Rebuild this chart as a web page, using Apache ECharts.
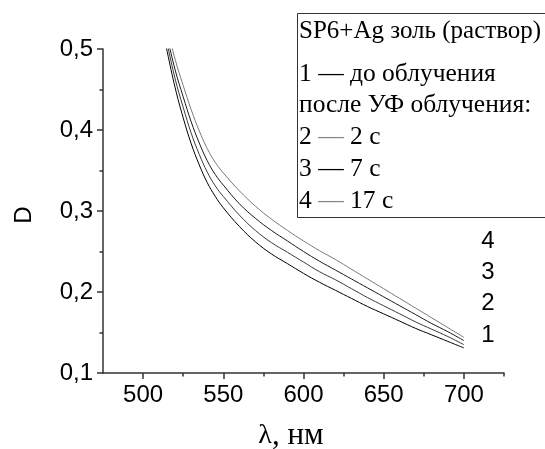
<!DOCTYPE html>
<html><head><meta charset="utf-8">
<script src="https://cdn.jsdelivr.net/npm/echarts@6/dist/echarts.min.js"></script>
<style>html,body{margin:0;padding:0;background:#fff}#c{width:545px;height:449px}</style>
</head><body><div id="c"></div>
<script>
const wavelengths = [510,515,520,525,530,535,540,545,550,560,570,580,590,600,610,620,630,640,650,660,670,680,690,700];
const curve1 = [0.545,0.497,0.452,0.415,0.383,0.357,0.335,0.318,0.304,0.281,0.262,0.247,0.235,0.223,0.212,0.202,0.192,0.182,0.173,0.164,0.155,0.147,0.139,0.131];
const curve2 = [0.555,0.507,0.463,0.428,0.396,0.370,0.348,0.331,0.318,0.295,0.276,0.261,0.249,0.237,0.225,0.215,0.204,0.193,0.183,0.173,0.163,0.154,0.145,0.135];
const curve3 = [0.564,0.516,0.474,0.441,0.410,0.384,0.362,0.345,0.332,0.309,0.291,0.276,0.263,0.250,0.238,0.227,0.216,0.205,0.194,0.183,0.172,0.161,0.151,0.140];
const curve4 = [0.575,0.527,0.487,0.455,0.425,0.399,0.377,0.360,0.347,0.325,0.306,0.290,0.276,0.263,0.251,0.240,0.228,0.216,0.204,0.192,0.180,0.168,0.156,0.144];
const curveNames = ['1','2','3','4'];
const xTickValues = [500,550,600,650,700];
const xMinorTickValues = [525,575,625,675,725];
const yTickValues = [0.1,0.2,0.3,0.4,0.5];
const yMinorTickValues = [0.15,0.25,0.35,0.45];
const legendTitle = 'SP6+Ag золь (раствор)';
const legendLines = [['1','—','до облучения'],['','','после УФ облучения:'],['2','—','2 с'],['3','—','7 с'],['4','—','17 с']];
const xAxisTitleSymbol = 'λ';
const xAxisTitleUnit = ', нм';
const yAxisTitle = 'D';

const curves = [curve1, curve2, curve3, curve4];
const curveColors = ['#000000', '#3a3a3a', '#1a1a1a', '#7a7a7a'];
const dashColors = {'1':'#000', '2':'#888', '3':'#000', '4':'#888'};

const chart = echarts.init(document.getElementById('c'), null, {renderer:'canvas'});
const axisColor = '#333';
const fmtY = v => Number(v).toFixed(1).replace('.', ',');
const labelFont = {fontFamily:'"Liberation Sans", Arial, sans-serif', fontSize:24, color:'#000'};

const serif = '"Liberation Serif", "Times New Roman", serif';
const lf = '25.5px ' + serif;
const graphics = [
  {type:'rect', shape:{x:298, y:14, width:260, height:203}, style:{fill:'#fff', stroke:null}, z:9},
  {type:'polyline', shape:{points:[[560,13.5],[297.5,13.5],[297.5,217.5],[560,217.5]]}, style:{fill:null, stroke:'#333', lineWidth:1}, z:10},
  {type:'text', x:299, y:31, z:11, style:{text:legendTitle, font:'25px ' + serif, fill:'#000', align:'left', verticalAlign:'middle'}}
];
const lineYs = [74, 105.5, 137, 169, 201];
legendLines.forEach((ln, i) => {
  let txt;
  if (ln[0]) txt = '{n|' + ln[0] + ' }{d' + ln[0] + '|' + ln[1] + '}{n| ' + ln[2] + '}';
  else txt = '{n|' + ln[2] + '}';
  const rich = {n:{font:lf, fill:'#000', color:'#000'}};
  ['1','2','3','4'].forEach(k => { rich['d'+k] = {font:lf, fill:dashColors[k], color:dashColors[k]}; });
  graphics.push({type:'text', x:299, y:lineYs[i], z:11, style:{text:txt, rich:rich, font:lf, fill:'#000', align:'left', verticalAlign:'middle'}});
});
const numYs = [241.5, 272.5, 303.5, 335];
['4','3','2','1'].forEach((n, i) => {
  graphics.push({type:'text', x:488, y:numYs[i], style:{text:n, font:'24px "Liberation Sans", Arial, sans-serif', fill:'#000', align:'center', verticalAlign:'middle'}});
});
graphics.push({type:'text', x:291, y:436, style:{
  text:'{l|' + xAxisTitleSymbol + '}{r|' + xAxisTitleUnit + '}',
  rich:{l:{font:'28px ' + serif, fill:'#000'}, r:{font:'31px ' + serif, fill:'#000'}},
  font:'30px ' + serif, fill:'#000', align:'center', verticalAlign:'middle'}});
graphics.push({type:'text', x:24, y:215, rotation:Math.PI/2, style:{text:yAxisTitle, font:'24px "Liberation Sans", Arial, sans-serif', fill:'#000', align:'center', verticalAlign:'middle'}});

const option = {
  animation:false,
  backgroundColor:'#fff',
  grid:{left:103, top:49, right:41, bottom:76, outerBoundsMode:'none'},
  xAxis:[
    {type:'value', min:475, max:725, position:'bottom',
     axisLine:{show:true, onZero:false, lineStyle:{color:axisColor, width:1.5}},
     axisTick:{show:true, customValues:xTickValues, length:6, lineStyle:{color:axisColor, width:1.5}},
     axisLabel:Object.assign({customValues:xTickValues, margin:10}, labelFont),
     splitLine:{show:false}},
    {type:'value', min:475, max:725, position:'bottom',
     axisLine:{show:false, onZero:false},
     axisTick:{show:true, customValues:xMinorTickValues, length:3.5, lineStyle:{color:axisColor, width:1.5}},
     axisLabel:{show:false}, splitLine:{show:false}}
  ],
  yAxis:[
    {type:'value', min:0.1, max:0.5, position:'left',
     axisLine:{show:true, onZero:false, lineStyle:{color:axisColor, width:1.5}},
     axisTick:{show:true, customValues:yTickValues, length:6, lineStyle:{color:axisColor, width:1.5}},
     axisLabel:Object.assign({customValues:yTickValues, margin:10, formatter:fmtY}, labelFont),
     splitLine:{show:false}},
    {type:'value', min:0.1, max:0.5, position:'left',
     axisLine:{show:false, onZero:false},
     axisTick:{show:true, customValues:yMinorTickValues, length:3.5, lineStyle:{color:axisColor, width:1.5}},
     axisLabel:{show:false}, splitLine:{show:false}}
  ],
  series: curves.map((c, i) => ({
    name: curveNames[i], type:'line', xAxisIndex:0, yAxisIndex:0,
    data: wavelengths.map((w, j) => [w, c[j]]),
    showSymbol:false, symbol:'none', smooth:0.4, clip:true,
    lineStyle:{color:curveColors[i], width:1}
  })),
  graphic: graphics
};
chart.setOption(option);
</script></body></html>
